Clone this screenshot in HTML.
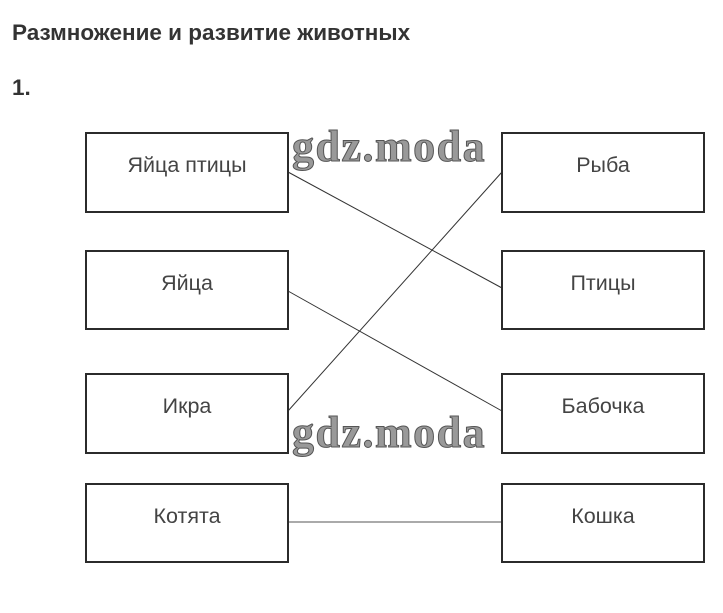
<!DOCTYPE html>
<html><head><meta charset="utf-8"><style>
body{margin:0;width:723px;height:613px;background:#fff;position:relative;overflow:hidden;font-family:"Liberation Sans",sans-serif}
.h{position:absolute;left:12px;font-weight:bold;color:#333;font-size:22.5px}
.b{position:absolute;width:200px;border:2px solid #2b2b2b;box-sizing:content-box;text-align:center;font-size:21.5px;color:#444}
.w{position:absolute;font-family:"Liberation Serif",serif;font-weight:bold;font-size:44px;color:#999;-webkit-text-stroke:1px #555;letter-spacing:1.5px}
</style></head><body>
<div class="h" style="top:20px">Размножение и развитие животных</div>
<div class="h" style="top:75px">1.</div>
<svg style="position:absolute;left:0;top:0" width="723" height="613">
<line x1="288" y1="172" x2="502" y2="288" stroke="#333" stroke-width="1"/>
<line x1="288" y1="291" x2="502" y2="411" stroke="#333" stroke-width="1"/>
<line x1="288" y1="411" x2="502" y2="172" stroke="#333" stroke-width="1"/>
<line x1="288" y1="522" x2="502" y2="522" stroke="#aaa" stroke-width="2"/>
</svg>
<div class="b" style="left:85px;top:132px;height:77px;line-height:62px">Яйца птицы</div>
<div class="b" style="left:85px;top:250px;height:76px;line-height:62px">Яйца</div>
<div class="b" style="left:85px;top:373px;height:77px;line-height:62px">Икра</div>
<div class="b" style="left:85px;top:483px;height:76px;line-height:62px">Котята</div>
<div class="b" style="left:501px;top:132px;height:77px;line-height:62px">Рыба</div>
<div class="b" style="left:501px;top:250px;height:76px;line-height:62px">Птицы</div>
<div class="b" style="left:501px;top:373px;height:77px;line-height:62px">Бабочка</div>
<div class="b" style="left:501px;top:483px;height:76px;line-height:62px">Кошка</div>
<div class="w" style="left:292px;top:121px">gdz.moda</div>
<div class="w" style="left:292px;top:407px">gdz.moda</div>
</body></html>
